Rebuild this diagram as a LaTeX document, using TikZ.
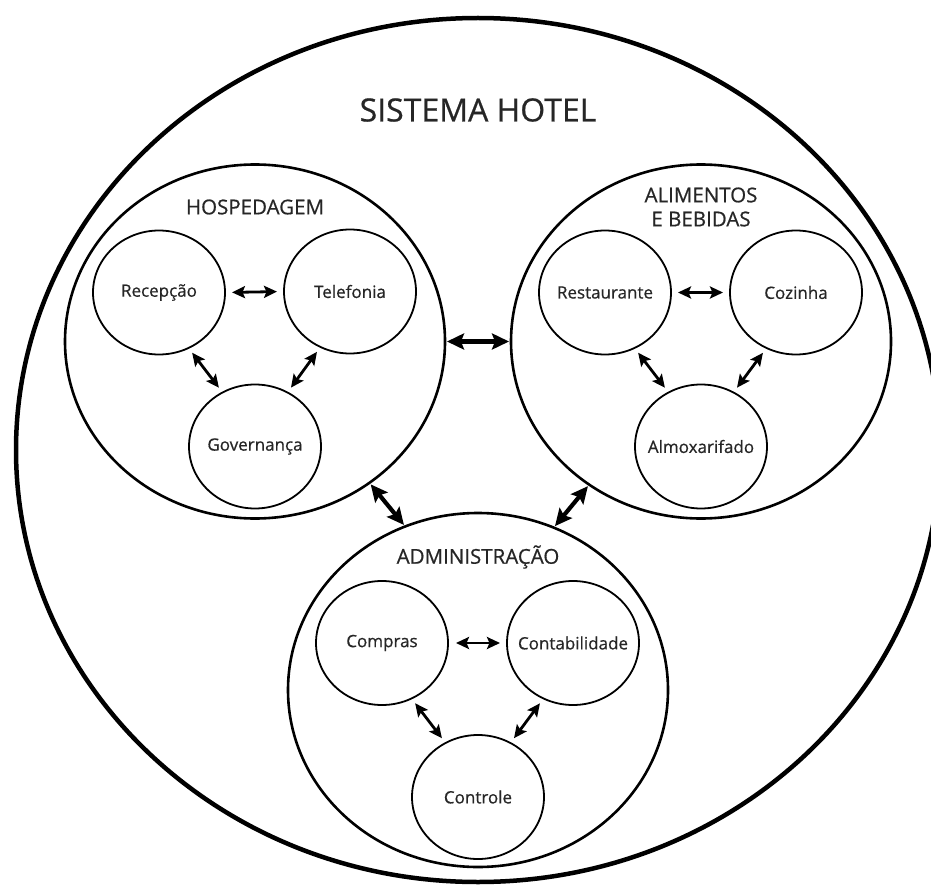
\documentclass[tikz,border=0pt]{standalone}
\usepackage{fontspec}
\setmainfont{Open Sans}[FakeBold=0.6]
\usetikzlibrary{shapes.geometric,arrows.meta}
\begin{document}
\begin{tikzpicture}[x=1pt,y=-1pt,
  outerell/.style={draw, ellipse, line width=4.5pt, minimum width=924pt, minimum height=864pt, inner sep=0pt, outer sep=0pt},
  groupell/.style={draw, ellipse, line width=2.6pt, minimum width=380pt, minimum height=354pt, inner sep=0pt, outer sep=0pt},
  unitell/.style={draw, ellipse, line width=1.8pt, minimum width=132pt, minimum height=124pt, inner sep=0pt, outer sep=0pt, text=black!85, font=\fontsize{17}{20}\selectfont},
  titlelab/.style={text=black!85, font=\fontsize{32}{38}\selectfont},
  grouplab/.style={text=black!85, font=\fontsize{20.5}{24}\selectfont, align=center},
  smallarrow/.style={line width=2.8pt, {Stealth[length=13pt,width=12pt,inset=2.5pt]}-{Stealth[length=13pt,width=12pt,inset=2.5pt]}, shorten <=6pt, shorten >=6pt},
  bigarrow/.style={line width=4.2pt, {Stealth[length=17pt,width=16pt,inset=3pt]}-{Stealth[length=17pt,width=16pt,inset=3pt]}, shorten <=2pt, shorten >=2pt}
]
\useasboundingbox (0,0) rectangle (931,885);
\fill[white] (0,0) rectangle (931,885);
\clip (0,0) rectangle (931,885);

% outer system
\node[outerell] (sys) at (478,450) {};
\node[titlelab] (systitle) at (478,110) {SISTEMA HOTEL};

% groups
\node[groupell] (hosp) at (255,341.5) {};
\node[groupell] (alim) at (701,341.5) {};
\node[groupell] (admin) at (478,690) {};
\node[grouplab] (hosplab) at (255,207) {HOSPEDAGEM};
\node[grouplab] (alimlab) at (701,207) {ALIMENTOS\\E BEBIDAS};
\node[grouplab] (adminlab) at (478,557) {ADMINISTRAÇÃO};

% units
\node[unitell] (rec) at (159,292.5) {\makebox[0pt]{Recepção}};
\node[unitell] (tel) at (350,291.5) {\makebox[0pt]{Telefonia}};
\node[unitell] (gov) at (255,446.5) {\makebox[0pt]{Governança}};
\node[unitell] (rest) at (605,292.5) {\makebox[0pt]{Restaurante}};
\node[unitell] (coz) at (796,292.5) {\makebox[0pt]{Cozinha}};
\node[unitell] (alm) at (701,446.5) {\makebox[0pt]{Almoxarifado}};
\node[unitell] (comp) at (382,643) {\makebox[0pt]{Compras}};
\node[unitell] (cont) at (573,643) {\makebox[0pt]{Contabilidade}};
\node[unitell] (ctrl) at (478,797) {\makebox[0pt]{Controle}};

% small arrows
\draw[smallarrow, shorten <=7pt, shorten >=7pt] (rec.east) -- (tel.west);
\draw[smallarrow] (rec.-62) -- (gov.121);
\draw[smallarrow] (tel.-118) -- (gov.59);
\draw[smallarrow, shorten <=7pt, shorten >=7pt] (rest.east) -- (coz.west);
\draw[smallarrow] (rest.-62) -- (alm.121);
\draw[smallarrow] (coz.-118) -- (alm.59);
\draw[smallarrow, shorten <=8pt, shorten >=7pt] (comp.east) -- (cont.west);
\draw[smallarrow] (comp.-62) -- (ctrl.121);
\draw[smallarrow] (cont.-118) -- (ctrl.59);

% big arrows
\draw[bigarrow] (hosp.east) -- (alim.west);
\draw[bigarrow] (hosp.-51.4) -- (admin.114.3);
\draw[bigarrow] (alim.-128.6) -- (admin.65.7);
\end{tikzpicture}
\end{document}
